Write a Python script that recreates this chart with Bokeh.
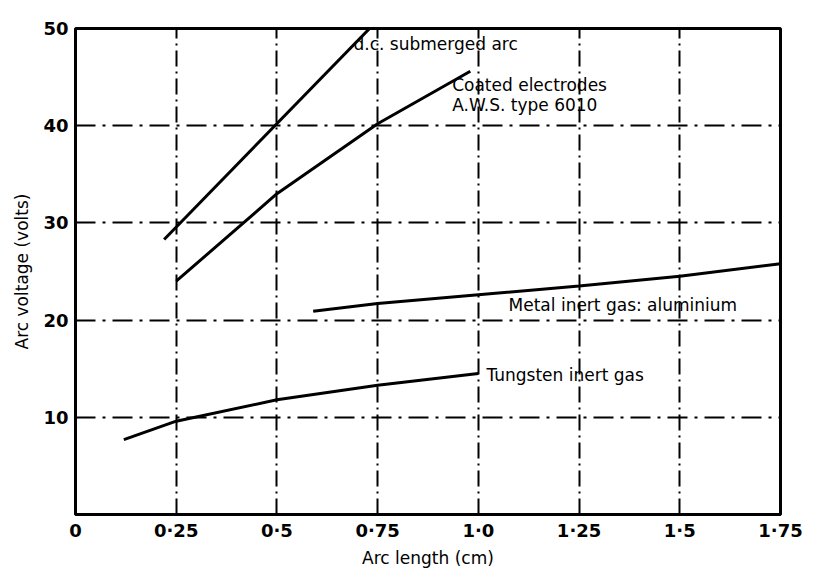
from bokeh.plotting import figure
from bokeh.models import FixedTicker, Range1d, ColumnDataSource
from bokeh.core.properties import value
from bokeh.embed import file_html
from bokeh.resources import INLINE

# ---- data ----
x_ticks = [0, 0.25, 0.5, 0.75, 1.0, 1.25, 1.5, 1.75]
x_tick_labels = ["0", "0·25", "0·5", "0·75", "1·0", "1·25", "1·5", "1·75"]
y_ticks = [10, 20, 30, 40, 50]
x_grid = [0.25, 0.5, 0.75, 1.0, 1.25, 1.5]
y_grid = [10, 20, 30, 40]

sub_len = [0.22, 0.73]
sub_volt = [28.3, 50.0]

coated_len = [0.25, 0.5, 0.75, 0.98]
coated_volt = [24.0, 33.0, 40.2, 45.6]

mig_len = [0.59, 0.75, 1.0, 1.25, 1.5, 1.75]
mig_volt = [20.9, 21.7, 22.6, 23.5, 24.5, 25.8]

tig_len = [0.12, 0.25, 0.5, 0.75, 1.0]
tig_volt = [7.7, 9.6, 11.8, 13.3, 14.5]

label_text = ["d.c. submerged arc", "Coated electrodes", "A.W.S. type 6010",
              "Metal inert gas:  aluminium", "Tungsten inert gas"]
label_x = [0.69, 0.935, 0.935, 1.075, 1.02]
label_y = [48.4, 44.2, 42.1, 21.6, 14.4]

FONT = "DejaVu Sans"

p = figure(width=813, height=570, output_backend="svg", toolbar_location=None,
           x_range=Range1d(0, 1.75), y_range=Range1d(0, 50),
           min_border_left=75, min_border_right=33, min_border_top=28,
           min_border_bottom=52)
p.background_fill_color = "white"
p.border_fill_color = "white"
p.outline_line_color = "black"
p.outline_line_width = 3

# axes
p.xaxis.ticker = FixedTicker(ticks=x_ticks)
p.xaxis.major_label_overrides = dict(zip(x_ticks, x_tick_labels))
p.yaxis.ticker = FixedTicker(ticks=y_ticks)
for ax in (p.xaxis, p.yaxis):
    ax.axis_line_color = "black"
    ax.axis_line_width = 3
    ax.major_tick_line_color = None
    ax.minor_tick_line_color = None
    ax.major_tick_out = 0
    ax.major_tick_in = 0
    ax.minor_tick_out = 0
    ax.minor_tick_in = 0
    ax.major_label_text_font = FONT
    ax.major_label_text_font_size = "18px"
    ax.major_label_text_font_style = "bold"
    ax.major_label_text_color = "black"
    ax.axis_label_text_font = FONT
    ax.axis_label_text_font_size = "17px"
    ax.axis_label_text_font_style = "normal"
    ax.axis_label_text_color = "black"
p.xaxis.axis_label = "Arc length (cm)"
p.yaxis.axis_label = "Arc voltage (volts)"
p.xaxis.major_label_standoff = 5
p.xaxis.axis_label_standoff = 4
p.yaxis.major_label_standoff = 7
p.yaxis.axis_label_standoff = 8

# grid
p.xgrid.ticker = FixedTicker(ticks=x_grid)
p.ygrid.ticker = FixedTicker(ticks=y_grid)
p.xgrid.grid_line_color = "black"
p.ygrid.grid_line_color = "black"
p.xgrid.grid_line_width = 2
p.ygrid.grid_line_width = 2
p.xgrid.grid_line_dash = "16 5 2 5"
p.ygrid.grid_line_dash = "20 7 3 7"

# curves
for xs, ys in [(sub_len, sub_volt), (coated_len, coated_volt),
               (mig_len, mig_volt), (tig_len, tig_volt)]:
    p.line(xs, ys, line_color="black", line_width=3)

src = ColumnDataSource(dict(x=label_x, y=label_y, t=label_text))
p.text(x="x", y="y", text="t", source=src, text_font=value(FONT),
       text_font_size="17px", text_color="black",
       text_align="left", text_baseline="middle")

open("out.html", "w").write(file_html(p, INLINE))
